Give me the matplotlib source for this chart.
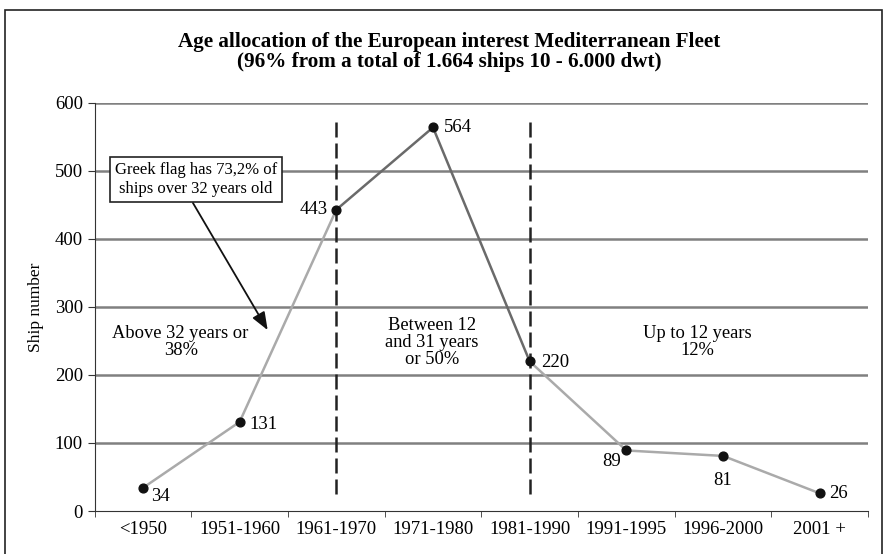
import matplotlib
matplotlib.use("Agg")
import matplotlib.pyplot as plt
from matplotlib.patches import Rectangle

# data
periods = ['<1950', '1951-1960', '1961-1970', '1971-1980', '1981-1990',
           '1991-1995', '1996-2000', '2001 +']
ships = [34, 131, 443, 564, 220, 89, 81, 26]
yticks = [0, 100, 200, 300, 400, 500, 600]

plt.rcParams['font.family'] = ['Liberation Serif', 'DejaVu Serif']

fig = plt.figure(figsize=(8.84, 5.54), dpi=100)
ax = fig.add_axes([0.107, 0.0776, 0.875, 0.7366])

# frame around the whole figure
fig.patches.append(Rectangle((0.006, -0.02), 0.992, 1.002, transform=fig.transFigure,
                             fill=False, edgecolor='#222222', linewidth=1.2))

x = list(range(len(periods)))
light = '#aaaaaa'
dark = '#6a6a6a'

for y in yticks[1:]:
    ax.axhline(y, color='#808080', linewidth=1.8, zorder=1)

# three segments of the line
ax.plot(x[:3], ships[:3], color=light, linewidth=1.8, zorder=2)
ax.plot(x[2:5], ships[2:5], color=dark, linewidth=1.8, zorder=2)
ax.plot(x[4:], ships[4:], color=light, linewidth=1.8, zorder=2)
ax.scatter(x, ships, color='#111111', s=40, zorder=4)

# dashed age boundaries
for xv in [2, 4]:
    ax.plot([xv, xv], [25, 575], color='#222222', linewidth=1.8,
            linestyle=(0, (6, 2.4)), zorder=3)

# point labels
offsets = [(6, -6, 'left'), (7, -2, 'left'), (-6, 0, 'right'), (8, 0, 'left'),
           (8, -1, 'left'), (-4, -8, 'right'), (0, -18, 'center'), (7, 0, 'left')]
for xi, yi, (dx, dy, ha) in zip(x, ships, offsets):
    ax.annotate(str(yi), (xi, yi), xytext=(dx, dy), textcoords='offset points',
                fontsize=13.5, va='center', ha=ha)

ax.text(0.39, 248, 'Above 32 years or\n38%', ha='center', va='center',
        fontsize=13.3, linespacing=1.0)
ax.text(2.99, 248, 'Between 12\nand 31 years\nor 50%', ha='center', va='center',
        fontsize=13.3, linespacing=1.0)
ax.text(5.73, 248, 'Up to 12 years\n12%', ha='center', va='center',
        fontsize=13.3, linespacing=1.0)

ax.annotate('Greek flag has 73,2% of\nships over 32 years old', xy=(1.29, 266),
            xytext=(0.55, 487), fontsize=12, ha='center', va='center', linespacing=1.25,
            bbox=dict(boxstyle='square,pad=0.3', fc='white', ec='#222222', lw=1.2),
            arrowprops=dict(arrowstyle='-|>,head_length=0.9,head_width=0.35',
                            color='#111111', lw=1.3, shrinkA=0, shrinkB=0,
                            relpos=(0.46, 0.0)),
            zorder=5)

ax.set_xlim(-0.5, 7.5)
ax.set_ylim(0, 600)
ax.set_yticks(yticks)
ax.set_xticks(x)
ax.set_xticklabels(periods, fontsize=13.5)
ax.set_xticks([i - 0.5 for i in range(9)], minor=True)
ax.tick_params(axis='x', which='major', length=0, pad=7)
ax.tick_params(axis='x', which='minor', length=4, color='#333333', direction='out')
ax.tick_params(axis='y', labelsize=13.5, length=5, color='#333333')
for s in ['top', 'right']:
    ax.spines[s].set_visible(False)
ax.spines['left'].set_color('#333333')
ax.spines['bottom'].set_color('#333333')
ax.set_ylabel('Ship number', fontsize=12.5, labelpad=8)

fig.text(0.508, 0.906, 'Age allocation of the European interest Mediterranean Fleet\n'
         '(96% from a total of 1.664 ships 10 - 6.000 dwt)',
         ha='center', va='center', fontsize=15.2, fontweight='bold', linespacing=1.0)

fig.savefig('out.png', dpi=100)
